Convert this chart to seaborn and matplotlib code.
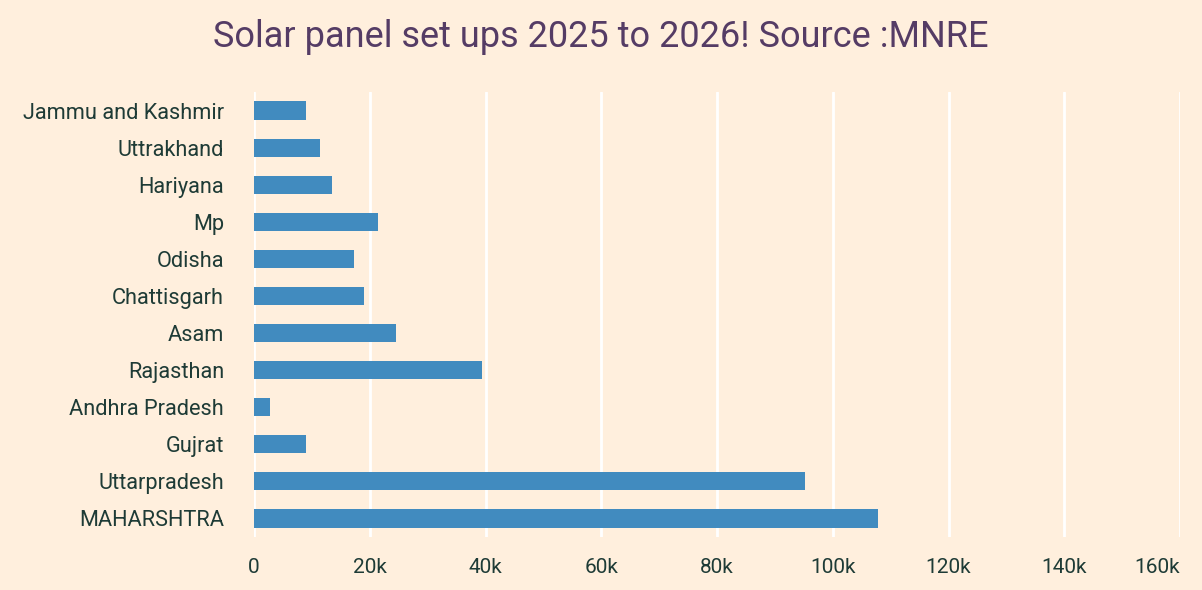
import matplotlib
matplotlib.use("Agg")
import matplotlib.pyplot as plt
import seaborn as sns
import pandas as pd

# data (installations, 2025-26)
states = ["Jammu and Kashmir", "Uttrakhand", "Hariyana", "Mp", "Odisha",
          "Chattisgarh", "Asam", "Rajasthan", "Andhra Pradesh", "Gujrat",
          "Uttarpradesh", "MAHARSHTRA"]
setups = [9000, 11400, 13500, 21400, 17300, 19000, 24500, 39400, 2800, 9000,
          95200, 107900]
x_ticks = [0, 20000, 40000, 60000, 80000, 100000, 120000, 140000, 160000]
x_labels = ["0", "20k", "40k", "60k", "80k", "100k", "120k", "140k", "160k"]

BG = "#FFEFDD"
BAR = "#418BBF"
TEXT = "#1E3B36"

sns.set_theme(style="white")
plt.rcParams["font.family"] = ["Roboto", "DejaVu Sans"]

df = pd.DataFrame({"State": states, "Setups": setups})

fig = plt.figure(figsize=(12.02, 5.9), dpi=100, facecolor=BG)
ax = fig.add_axes([254 / 1202, 1 - 537 / 590, (1180 - 254) / 1202, (537 - 92) / 590])
ax.set_facecolor(BG)

sns.barplot(data=df, x="Setups", y="State", color=BAR, width=0.49,
            saturation=1, linewidth=0, ax=ax, zorder=3)

ax.set_xlim(0, 160000)
ax.set_xticks(x_ticks)
ax.set_xticklabels(x_labels)
for x in x_ticks:
    ax.axvline(x, color="white", lw=2, zorder=1)
for s in ax.spines.values():
    s.set_visible(False)

ax.set_xlabel("")
ax.set_ylabel("")
ax.tick_params(axis="both", length=0, colors=TEXT)
ax.tick_params(axis="x", pad=15, labelsize=15)
ax.tick_params(axis="y", pad=21.5, labelsize=15.7)
ax.get_xticklabels()[-1].set_horizontalalignment("right")

fig.text(0.5, 1 - 37 / 590, "Solar panel set ups 2025 to 2026! Source :MNRE",
         ha="center", va="center", fontsize=26, color="#553C65")

fig.savefig("out.png", dpi=100, facecolor=BG)
